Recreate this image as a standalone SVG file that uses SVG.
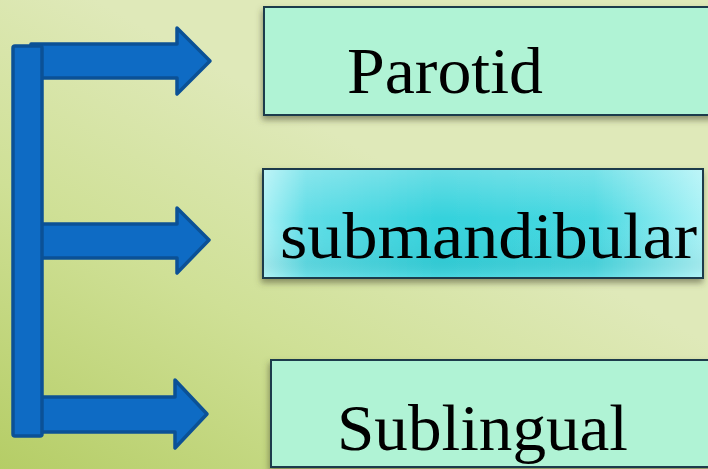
<svg xmlns="http://www.w3.org/2000/svg" width="708" height="469" viewBox="0 0 708 469">
  <defs>
    <linearGradient id="bg" x1="0" y1="1" x2="0.55" y2="0.35">
      <stop offset="0" stop-color="#b5cd66"/>
      <stop offset="0.55" stop-color="#cfe096"/>
      <stop offset="1" stop-color="#dfe9b9"/>
    </linearGradient>
    <linearGradient id="cyan" x1="0" y1="0" x2="1" y2="0">
      <stop offset="0" stop-color="#a8f1f5"/>
      <stop offset="0.1" stop-color="#5fdde6"/>
      <stop offset="0.4" stop-color="#34d2dc"/>
      <stop offset="0.75" stop-color="#49d8e1"/>
      <stop offset="1" stop-color="#a8f2f6"/>
    </linearGradient>
    <linearGradient id="gloss" x1="0" y1="0" x2="0" y2="1">
      <stop offset="0" stop-color="#ffffff" stop-opacity="0.25"/>
      <stop offset="0.45" stop-color="#ffffff" stop-opacity="0"/>
      <stop offset="0.85" stop-color="#000000" stop-opacity="0.04"/>
      <stop offset="1" stop-color="#ffffff" stop-opacity="0.1"/>
    </linearGradient>
    <filter id="shadow" x="-10%" y="-20%" width="120%" height="150%">
      <feDropShadow dx="-1" dy="4" stdDeviation="3" flood-color="#4a4a30" flood-opacity="0.55"/>
    </filter>
  </defs>
  <style>
    .box { fill: #b0f3d5; stroke: #1d3b4c; stroke-width: 2; }
    .label { font-family: "Liberation Serif", "DejaVu Serif", serif; font-size: 66px; fill: #000000; }
    .arrow { fill: #0e6bc4; stroke: #0b5196; stroke-width: 3.5; stroke-linejoin: round; }
  </style>

  <rect width="708" height="469" fill="url(#bg)"/>

  <!-- branching arrows -->
  <g id="connectors">
    <polygon class="arrow" points="31,44 177,44 177,28 210,61 177,94 177,78 31,78"/>
    <polygon class="arrow" points="40,224 177,224 177,208 209,240 177,273 177,258 40,258"/>
    <polygon class="arrow" points="40,397 175,397 175,380 207,414 175,448 175,432 40,432"/>
    <rect class="arrow" x="13" y="46" width="29" height="390" rx="2"/>
  </g>

  <g id="parotid">
    <rect class="box" x="264" y="7" width="450" height="108" filter="url(#shadow)"/>
    <text class="label" x="347" y="93" textLength="196" lengthAdjust="spacingAndGlyphs">Parotid</text>
  </g>

  <g id="submandibular">
    <rect x="263" y="169" width="440" height="109" fill="url(#cyan)" stroke="#1d3b4c" stroke-width="2" filter="url(#shadow)"/>
    <rect x="264" y="170" width="438" height="107" fill="url(#gloss)"/>
    <text class="label" x="280" y="258" textLength="417" lengthAdjust="spacingAndGlyphs">submandibular</text>
  </g>

  <g id="sublingual">
    <rect class="box" x="271" y="360" width="445" height="107" filter="url(#shadow)"/>
    <text class="label" x="337" y="450" textLength="291" lengthAdjust="spacingAndGlyphs">Sublingual</text>
  </g>
</svg>
